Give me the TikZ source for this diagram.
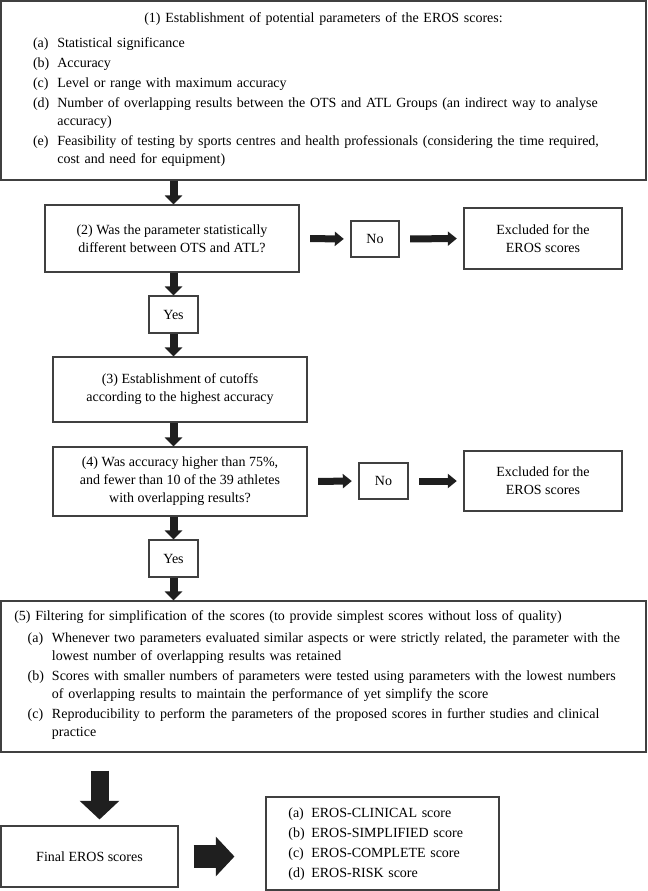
\documentclass[tikz,border=0pt]{standalone}
\usepackage{fontspec}
\setmainfont{Liberation Serif}
\usetikzlibrary{positioning, arrows.meta, calc}

\begin{document}
\begin{tikzpicture}[
  x=0.75pt, y=-0.75pt,
  box/.style={
    rectangle, draw=black!75, line width=0.8pt,
    align=center, font=\fontsize{10.5}{13.5}\selectfont,
    inner sep=3pt,
  },
  listbox/.style={box, align=left, inner xsep=#1, inner ysep=3pt},
  arrow/.style={-{Triangle[length=6.75pt, width=12.75pt]}, line width=6pt, black!88},
  sidearrow/.style={-{Triangle[length=6.75pt, width=10.5pt]}, line width=5.25pt,
    black!88, shorten <=8pt, shorten >=5pt},
  bigarrow/.style={-{Triangle[length=14pt, width=29pt]}, line width=#1, black!88},
]
\useasboundingbox (0,0) rectangle (647,891);

% left column: steps (1) to (5)
\node[listbox=6pt, minimum height=134.25pt, text width=471.75pt] (params) at (323.5,90.5) {%
  \makebox[\hsize]{(1) Establishment of potential parameters of the EROS scores:}\\[6pt]
  \begin{tabular}{@{\hspace{18pt}}l@{\hspace{6pt}}l@{}}
  (a) & Statistical significance\\[1.5pt]
  (b) & Accuracy\\[1.5pt]
  (c) & Level or range with maximum accuracy\\[1.5pt]
  (d) & Number of overlapping results between the OTS and ATL Groups (an indirect way to analyse\\
      & accuracy)\\[1.5pt]
  (e) & Feasibility of testing by sports centres and health professionals (considering the time required,\\
      & cost and need for equipment)
  \end{tabular}};
\node[box, minimum width=190.5pt, minimum height=50.25pt] (q1) at (172,238.5)
  {(2) Was the parameter statistically\\different between OTS and ATL?};
\node[box, minimum width=36.75pt, minimum height=27.75pt] (yes1) at (173.5,314.5) {Yes};
\node[box, minimum width=190.5pt, minimum height=48.75pt] (cutoff) at (180,389.5)
  {(3) Establishment of cutoffs\\according to the highest accuracy};
\node[box, minimum width=190.5pt, minimum height=51.75pt] (q2) at (180,481.5)
  {(4) Was accuracy higher than 75\%,\\and fewer than 10 of the 39 athletes\\with overlapping results?};
\node[box, minimum width=36.75pt, minimum height=27.75pt] (yes2) at (173.5,558.5) {Yes};
\node[listbox=10pt, minimum height=113.25pt, text width=463.75pt] (filter) at (323.5,676.5) {%
  (5) Filtering for simplification of the scores (to provide simplest scores without loss of quality)\\[4pt]
  \begin{tabular}{@{\hspace{10pt}}l@{\hspace{6pt}}l@{}}
  (a) & Whenever two parameters evaluated similar aspects or were strictly related, the parameter with the\\
      & lowest number of overlapping results was retained\\[1.5pt]
  (b) & Scores with smaller numbers of parameters were tested using parameters with the lowest numbers\\
      & of overlapping results to maintain the performance of yet simplify the score\\[1.5pt]
  (c) & Reproducibility to perform the parameters of the proposed scores in further studies and clinical\\
      & practice
  \end{tabular}};

% right column: "No" branches
\node[box, minimum width=36pt, minimum height=27pt] (no1) at (375,239) {No};
\node[box, minimum width=118.5pt, minimum height=45.75pt] (excl1) at (543,238.5)
  {Excluded for the\\EROS scores};
\node[box, minimum width=36.75pt, minimum height=27pt] (no2) at (383.5,481) {No};
\node[box, minimum width=118.5pt, minimum height=45pt] (excl2) at (543,481)
  {Excluded for the\\EROS scores};

% bottom row
\node[box, minimum width=132.75pt, minimum height=45.75pt] (final) at (89.5,856.5) {Final EROS scores};
\node[listbox=12.75pt, minimum height=69.75pt, text width=149.25pt] (scores) at (382.5,843.5) {%
  \begin{tabular}{@{\hspace{4pt}}l@{\hspace{5pt}}l@{}}
  (a) & EROS-CLINICAL score\\[1.5pt]
  (b) & EROS-SIMPLIFIED score\\[1.5pt]
  (c) & EROS-COMPLETE score\\[1.5pt]
  (d) & EROS-RISK score
  \end{tabular}};

\draw[arrow] (params.south -| yes1) -- (q1.north -| yes1);
\draw[arrow] (q1.south -| yes1)     -- (yes1.north);
\draw[arrow] (yes1.south)           -- (cutoff.north -| yes1);
\draw[arrow] (cutoff.south -| yes1) -- (q2.north -| yes1);
\draw[arrow] (q2.south -| yes1)     -- (yes2.north);
\draw[arrow] (yes2.south)           -- (filter.north -| yes2);

\draw[sidearrow] (q1.east)  -- (no1.west);
\draw[sidearrow] (no1.east) -- (excl1.west);
\draw[sidearrow] (q2.east)  -- (no2.west);
\draw[sidearrow] (no2.east) -- (excl2.west);

\draw[bigarrow=13.5pt] ($(filter.south -| final.north)+(10,18)$) -- ($(final.north)+(10,-6)$);
\draw[bigarrow=17pt] ($(final.east)+(15,0)$) -- ($(final.east -| scores.west)+(-31,0)$);
\end{tikzpicture}
\end{document}
